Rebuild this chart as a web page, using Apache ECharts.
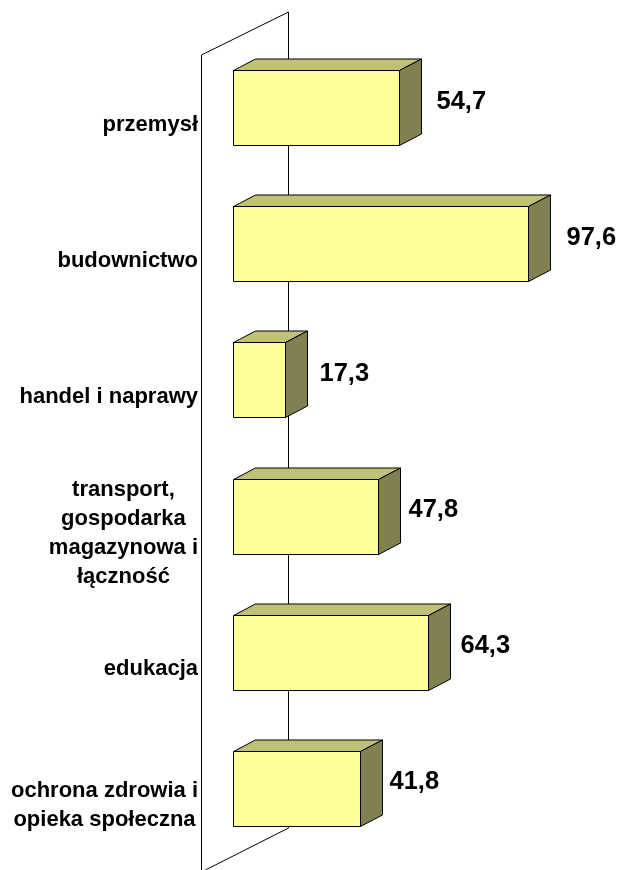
<!DOCTYPE html>
<html>
<head>
<meta charset="utf-8">
<style>html,body{margin:0;padding:0;background:#fff}#main{width:622px;height:870px}</style>
<script src="https://cdn.jsdelivr.net/npm/echarts@6/dist/echarts.min.js"></script>
</head>
<body>
<div id="main"></div>
<script>
var categories = ['przemysł', 'budownictwo', 'handel i naprawy', 'transport,\ngospodarka\nmagazynowa i\nłączność', 'edukacja', 'ochrona zdrowia i\nopieka społeczna'];
var values = [54.7, 97.6, 17.3, 47.8, 64.3, 41.8];

var depthX = 22, depthY = 11.5, barHeight = 75;
// odstęp etykiety wartości od słupka
var labelGaps = [37, 38, 34, 30, 32, 29];

var myChart = echarts.init(document.getElementById('main'));
var option = {
    animation: false,
    backgroundColor: '#fff',
    grid: { left: 233, top: 40, width: 330, height: 817 },
    xAxis: { type: 'value', min: 0, max: 109, show: false },
    yAxis: {
        type: 'category',
        inverse: true,
        data: categories,
        axisLine: { show: false },
        axisTick: { show: false },
        axisLabel: {
            margin: 35,
            align: 'right',
            padding: [33, 0, 0, 0],
            formatter: function (v) {
                // każda linia wyśrodkowana w bloku
                return v.split('\n').map(function (s) { return '{c|' + s + '}'; }).join('\n');
            },
            rich: {
                c: { align: 'center', color: '#000', fontFamily: 'Liberation Sans', fontWeight: 'bold', fontSize: 22, lineHeight: 29 }
            }
        }
    },
    graphic: [{
        type: 'polygon',
        z: -1,
        silent: true,
        shape: { points: [[201.5, 55], [288.5, 12], [288.5, 828], [201.5, 872]] },
        style: { fill: '#fff', stroke: '#000', lineWidth: 1 }
    }],
    series: [{
        type: 'custom',
        z: 5,
        clip: false,
        encode: { x: 0, y: 1 },
        data: values.map(function (v, i) { return [v, i]; }),
        renderItem: function (params, api) {
            var end = api.coord([api.value(0), api.value(1)]);
            var start = api.coord([0, api.value(1)]);
            var x0 = Math.round(start[0]) + 0.5, x1 = Math.round(end[0]) + 0.5;
            var y0 = Math.floor(end[1] - barHeight / 2) + 0.5, y1 = y0 + barHeight;
            var line = { stroke: '#000', lineWidth: 1 };
            return {
                type: 'group',
                children: [{
                    type: 'polygon',
                    shape: { points: [[x0, y0], [x1, y0], [x1 + depthX, y0 - depthY], [x0 + depthX, y0 - depthY]] },
                    style: Object.assign({ fill: '#C0C078' }, line)
                }, {
                    type: 'polygon',
                    shape: { points: [[x1, y0], [x1 + depthX, y0 - depthY], [x1 + depthX, y1 - depthY], [x1, y1]] },
                    style: Object.assign({ fill: '#808050' }, line)
                }, {
                    type: 'rect',
                    shape: { x: x0, y: y0, width: x1 - x0, height: barHeight },
                    style: Object.assign({ fill: '#FFFF99' }, line)
                }, {
                    type: 'text',
                    style: {
                        x: x1 + labelGaps[params.dataIndex],
                        y: end[1] - 6.5,
                        text: api.value(0).toFixed(1).replace('.', ','),
                        fill: '#000',
                        font: 'bold 25.5px "Liberation Sans"',
                        align: 'left',
                        verticalAlign: 'middle'
                    }
                }]
            };
        }
    }]
};
myChart.setOption(option);
</script>
</body>
</html>
